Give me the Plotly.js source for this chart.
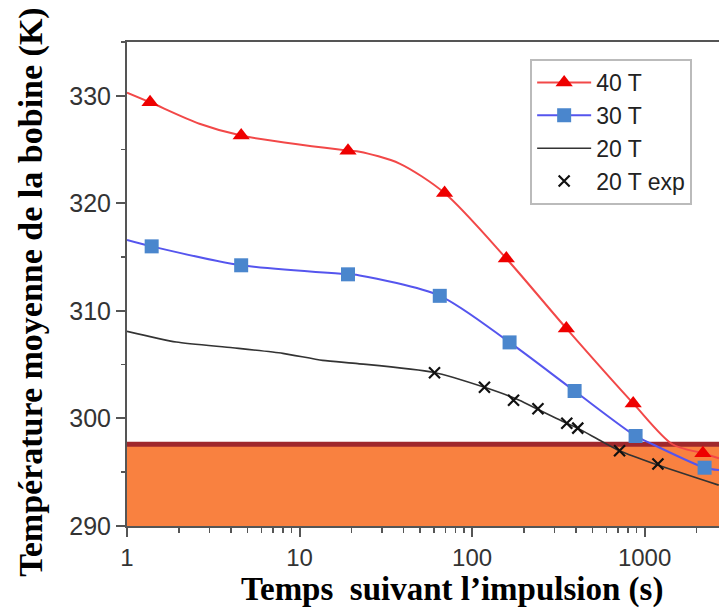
<!DOCTYPE html>
<html>
<head>
<meta charset="utf-8">
<script src="https://cdn.plot.ly/plotly-3.0.1.min.js"></script>
<style>html,body{margin:0;padding:0;background:#fff;}#chart{width:719px;height:608px;}</style>
</head>
<body>
<div id="chart"></div>
<script>
// ---- data ----
const t40Line = [1, 1.36, 2.63, 4.59, 19.1, 22.3, 38, 69.3, 158, 352, 859, 1450, 2178, 2700];
const T40Line = [330.3, 329.4, 327.4, 326.3, 324.9, 324.8, 323.7, 320.96, 314.87, 308.37, 301.4, 297.6, 296.76, 296.3];
const t40Mk = [1.36, 4.59, 19.1, 69.3, 158, 352, 859, 2178];
const T40Mk = [329.4, 326.3, 324.9, 320.96, 314.87, 308.37, 301.4, 296.76];

const t30Line = [1, 1.39, 4.59, 19.1, 22.3, 65, 165, 393, 887, 1112, 2228, 2700];
const T30Line = [316.6, 316.0, 314.24, 313.4, 313.3, 311.4, 307.07, 302.55, 298.37, 297.6, 295.42, 295.2];
const t30Mk = [1.39, 4.59, 19.1, 65, 165, 393, 887, 2228];
const T30Mk = [316.0, 314.24, 313.4, 311.4, 307.07, 302.55, 298.37, 295.42];

const t20Line = [1, 1.93, 4.1, 8, 13.6, 21.8, 59.3, 118, 188, 240, 353, 409, 550, 716, 1159, 2690];
const T20Line = [308.1, 307.1, 306.57, 306.05, 305.4, 305.1, 304.3, 302.9, 301.7, 300.85, 299.55, 299.1, 297.97, 297.0, 295.74, 293.8];

const t20Exp = [60.6, 118, 174, 241, 354, 410, 716, 1195];
const T20Exp = [304.24, 302.9, 301.7, 300.9, 299.55, 299.1, 297.0, 295.77];

const bandTop = 297.6;   // limit line (K)
const bandBottom = 290;

const names = ['40 T', '30 T', '20 T', '20 T exp'];
const xTickVals = [1, 10, 100, 1000];
const xTickText = ['1', '10', '100', '1000'];
const xMinorVals = [2, 3, 4, 5, 6, 7, 8, 9, 20, 30, 40, 50, 60, 70, 80, 90, 200, 300, 400, 500, 600, 700, 800, 900, 2000];
const yTickVals = [290, 300, 310, 320, 330];
const yMinorVals = [295, 305, 315, 325, 335];

const serif = '"Liberation Serif", "Times New Roman", serif';
const sans = '"Liberation Sans", Arial, sans-serif';

const traces = [
  {x: t40Line, y: T40Line, mode: 'lines', line: {color: '#f24848', width: 2, shape: 'spline', smoothing: 0.8}, showlegend: false, hoverinfo: 'skip'},
  {x: t40Mk, y: T40Mk, mode: 'markers', marker: {symbol: 'triangle-up', size: 15, color: '#ee0000'}, showlegend: false},
  {x: t30Line, y: T30Line, mode: 'lines', line: {color: '#5555ee', width: 2, shape: 'spline', smoothing: 0.8}, showlegend: false, hoverinfo: 'skip'},
  {x: t30Mk, y: T30Mk, mode: 'markers', marker: {symbol: 'square', size: 14, color: '#4a86cd'}, showlegend: false},
  {x: t20Line, y: T20Line, mode: 'lines', line: {color: '#333333', width: 1.6, shape: 'spline', smoothing: 0.6}, showlegend: false},
  {x: t20Exp, y: T20Exp, mode: 'markers', marker: {symbol: 'x-thin-open', size: 11, color: '#111', line: {width: 2.2, color: '#111'}}, showlegend: false},
  // legend entries
  {x: [null], y: [null], name: names[0], mode: 'lines+markers', line: {color: '#f24848', width: 2}, marker: {symbol: 'triangle-up', size: 15, color: '#ee0000'}},
  {x: [null], y: [null], name: names[1], mode: 'lines+markers', line: {color: '#5555ee', width: 2}, marker: {symbol: 'square', size: 14, color: '#4a86cd'}},
  {x: [null], y: [null], name: names[2], mode: 'lines', line: {color: '#333333', width: 1.6}},
  {x: [null], y: [null], name: names[3], mode: 'markers', marker: {symbol: 'x-thin-open', size: 11, color: '#111', line: {width: 2.2, color: '#111'}}}
];

const layout = {
  width: 719, height: 608,
  margin: {l: 127, r: 0, t: 42, b: 82},
  paper_bgcolor: '#ffffff', plot_bgcolor: '#ffffff',
  showlegend: true,
  legend: {
    x: 0.681, y: 0.965, xanchor: 'left', yanchor: 'top',
    bgcolor: '#ffffff', bordercolor: '#bbbbbb', borderwidth: 2,
    font: {family: sans, size: 23, color: '#222'},
    itemwidth: 54, tracegroupgap: 0
  },
  xaxis: {
    type: 'log', range: [0, Math.log10(2700)],
    tickmode: 'array', tickvals: xTickVals, ticktext: xTickText,
    ticks: 'outside', ticklen: 9, tickwidth: 2, tickcolor: '#555',
    minor: {tickmode: 'array', tickvals: xMinorVals, ticks: 'outside', ticklen: 5, tickwidth: 1.5, tickcolor: '#555', showgrid: false},
    showline: true, linecolor: '#555', linewidth: 2, mirror: true,
    showgrid: false, zeroline: false,
    tickfont: {family: sans, size: 24, color: '#333'}
  },
  yaxis: {
    range: [290, 335],
    tickmode: 'array', tickvals: yTickVals,
    ticks: 'outside', ticklen: 9, tickwidth: 2, tickcolor: '#555',
    minor: {tickmode: 'array', tickvals: yMinorVals, ticks: 'outside', ticklen: 4, tickwidth: 1.5, tickcolor: '#555', showgrid: false},
    showline: true, linecolor: '#555', linewidth: 2,
    showgrid: false, zeroline: false,
    tickfont: {family: sans, size: 25, color: '#333'}
  },
  shapes: [
    {type: 'rect', xref: 'paper', yref: 'y', x0: 0, x1: 1, y0: bandBottom, y1: bandTop, fillcolor: '#f98140', line: {width: 0}, layer: 'below'},
    {type: 'line', xref: 'paper', yref: 'y', x0: 0, x1: 1, y0: bandTop, y1: bandTop, line: {color: '#a0282c', width: 5}, layer: 'below'}
  ],
  annotations: [
    {text: 'Température moyenne de la bobine (K)', xref: 'paper', yref: 'paper', x: -0.162, y: 0.482,
     xanchor: 'center', yanchor: 'middle', textangle: -90, showarrow: false,
     font: {family: serif, size: 34, color: '#000', weight: 'bold'}},
    {text: 'Temps  suivant l’impulsion (s)', xref: 'paper', yref: 'paper', x: 0.549, y: -0.132,
     xanchor: 'center', yanchor: 'middle', showarrow: false,
     font: {family: serif, size: 33, color: '#000', weight: 'bold'}}
  ]
};

Plotly.newPlot('chart', traces, layout, {displayModeBar: false, staticPlot: true});
</script>
</body>
</html>
